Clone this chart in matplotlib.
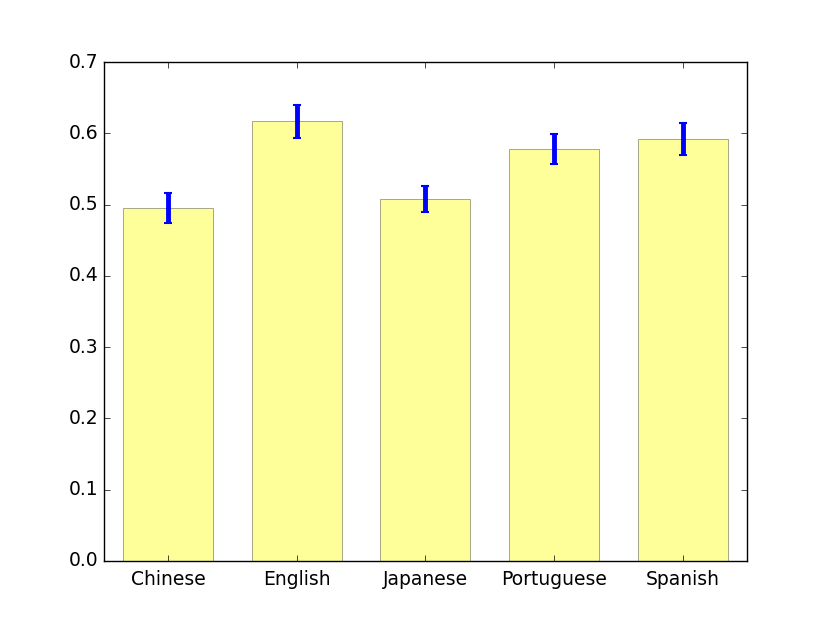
import numpy as np
import matplotlib
matplotlib.use('Agg')
import matplotlib.pyplot as plt

plt.style.use('classic')
plt.rcParams['font.size'] = 13.5

languages = ['Chinese', 'English', 'Japanese', 'Portuguese', 'Spanish']
means = [0.496, 0.617, 0.508, 0.578, 0.592]
errors = [0.021, 0.0235, 0.018, 0.0207, 0.0225]

fig = plt.figure(figsize=(8.3, 6.23), dpi=100)
ax = fig.add_subplot(111)

x = np.arange(len(languages))
ax.bar(x, means, width=0.7, align='center', color='yellow', alpha=0.4,
       edgecolor='black', linewidth=0.6)
ax.errorbar(x, means, yerr=errors, fmt='none', ecolor='blue',
            elinewidth=3.5, capsize=3, capthick=1.5)

ax.set_xticks(x)
ax.set_xticklabels(languages)
ax.tick_params(axis='x', pad=7)
ax.set_xlim(-0.5, len(languages) - 0.5)
ax.set_ylim(0, 0.7)

fig.savefig('out.png', dpi=100)
